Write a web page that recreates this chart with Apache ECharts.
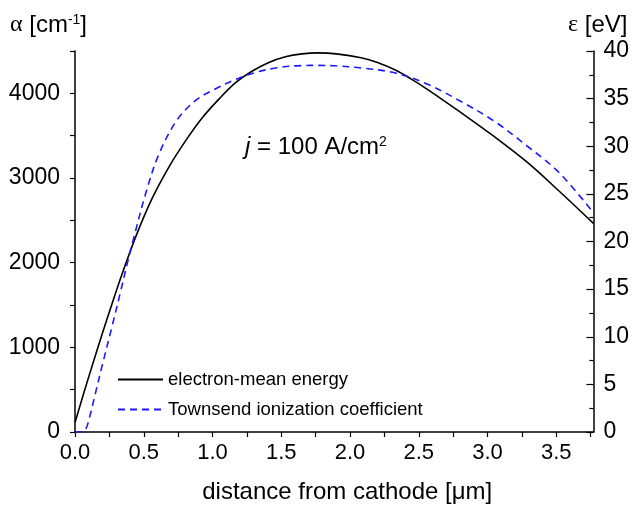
<!DOCTYPE html>
<html>
<head>
<meta charset="utf-8">
<script src="https://cdn.jsdelivr.net/npm/echarts@6/dist/echarts.min.js"></script>
<style>
html,body{margin:0;padding:0;background:#fff;}
#c{width:632px;height:511px;}
</style>
</head>
<body>
<div id="c"></div>
<script>
// electron-mean energy (right axis, eV)
const energyX = [0, 0.06, 0.13, 0.2, 0.27, 0.35, 0.45, 0.56, 0.69, 0.81, 0.92, 1.05, 1.17, 1.29, 1.41, 1.53, 1.65, 1.77, 1.9, 2.08, 2.2, 2.33, 2.44, 2.56, 2.8, 3.05, 3.29, 3.52, 3.77];
const energyEV = [1.0, 3.9, 7.2, 10.4, 13.5, 16.9, 20.8, 24.5, 28.0, 30.7, 32.9, 35.0, 36.7, 37.9, 38.8, 39.4, 39.7, 39.8, 39.7, 39.3, 38.8, 38.0, 37.1, 36.0, 33.6, 31.0, 28.3, 25.3, 21.9];
// Townsend ionization coefficient (left axis, cm^-1)
const alphaX = [0, 0.05, 0.08, 0.11, 0.14, 0.2, 0.27, 0.33, 0.38, 0.43, 0.52, 0.61, 0.74, 0.88, 1.03, 1.17, 1.31, 1.46, 1.65, 1.77, 1.89, 2.08, 2.33, 2.56, 2.8, 3.05, 3.29, 3.52, 3.77];
const alphaCm = [0, 0, 40, 200, 400, 800, 1250, 1650, 1990, 2310, 2850, 3280, 3680, 3920, 4060, 4165, 4245, 4300, 4328, 4330, 4325, 4300, 4240, 4110, 3910, 3670, 3375, 3065, 2590];
const xTicks = [0, 0.5, 1.0, 1.5, 2.0, 2.5, 3.0, 3.5];
const alphaTicks = [0, 1000, 2000, 3000, 4000];
const energyTicks = [0, 5, 10, 15, 20, 25, 30, 35, 40];

const FONT = 'Liberation Sans, Arial, sans-serif';
const chart = echarts.init(document.getElementById('c'), null, {renderer: 'canvas'});

const zip = (a, b) => a.map((v, i) => [v, b[i]]);

chart.setOption({
  backgroundColor: '#ffffff',
  animation: false,
  grid: {left: 75, right: 35, top: 51, bottom: 79, containLabel: false},
  xAxis: {
    type: 'value', min: 0, max: 3.77, interval: 0.25,
    name: 'distance from cathode [\u03bcm]', nameLocation: 'middle', nameGap: 48,
    nameTextStyle: {fontFamily: FONT, fontSize: 24, color: '#000', padding: [0, 0, 0, 26]},
    axisLine: {show: true, lineStyle: {color: '#000', width: 1.5}},
    axisTick: {show: true, inside: false, length: 5, lineStyle: {color: '#000', width: 1.2}},
    axisLabel: {
      show: true, margin: 10, fontFamily: FONT, fontSize: 22, color: '#000',
      showMaxLabel: false,
      formatter: v => (xTicks.some(t => Math.abs(t - v) < 1e-6) ? v.toFixed(1) : '')
    },
    splitLine: {show: false}
  },
  yAxis: [
    {
      type: 'value', min: 0, max: 4500, interval: 500, position: 'left',
      axisLine: {show: true, lineStyle: {color: '#000', width: 1.5}},
      axisTick: {show: true, inside: false, length: 5, lineStyle: {color: '#000', width: 1.2}},
      axisLabel: {
        margin: 15, fontFamily: FONT, fontSize: 23, color: '#000',
        formatter: v => (alphaTicks.includes(v) ? String(v) : '')
      },
      splitLine: {show: false}
    },
    {
      type: 'value', min: 0, max: 40, interval: 5, position: 'right',
      axisLine: {show: true, lineStyle: {color: '#000', width: 1.5}},
      axisTick: {show: true, inside: true, length: 7, lineStyle: {color: '#000', width: 1.2}},
      minorTick: {show: true, splitNumber: 2, length: 4, lineStyle: {color: '#000', width: 1.2}},
      axisLabel: {
        margin: 10, fontFamily: FONT, fontSize: 23, color: '#000',
        formatter: v => (energyTicks.includes(v) ? String(v) : '')
      },
      splitLine: {show: false}
    }
  ],
  legend: {
    show: true, orient: 'vertical', left: 117, top: 370, padding: 0,
    itemWidth: 45, itemHeight: 14, itemGap: 11,
    itemStyle: {color: 'rgba(0,0,0,0)', borderWidth: 0, opacity: 0},
    textStyle: {fontFamily: FONT, fontSize: 18.5, color: '#000'},
    data: ['electron-mean energy', 'Townsend ionization coefficient']
  },
  series: [
    {
      name: 'electron-mean energy', type: 'line', yAxisIndex: 1,
      data: zip(energyX, energyEV), symbol: 'none', smooth: 0.35,
      lineStyle: {color: '#000000', width: 1.6, type: 'solid'},
      itemStyle: {color: '#000000'}
    },
    {
      name: 'Townsend ionization coefficient', type: 'line', yAxisIndex: 0,
      data: zip(alphaX, alphaCm), symbol: 'none', smooth: 0.35,
      lineStyle: {color: '#1a1aff', width: 1.6, type: [7, 5]},
      itemStyle: {color: '#1a1aff'}
    }
  ],
  graphic: [
    {
      type: 'text', left: 10, top: 13,
      style: {
        text: '{g|\u03b1} [cm{s|-1}]',
        fill: '#000',
        font: '24px ' + FONT,
        rich: {
          g: {fontFamily: 'Liberation Serif, DejaVu Serif, serif', fontSize: 24, fill: '#000'},
          s: {fontFamily: FONT, fontSize: 14, verticalAlign: 'top', fill: '#000'}
        }
      }
    },
    {
      type: 'text', left: 568, top: 13,
      style: {
        text: '{g|\u03b5} [eV]',
        fill: '#000',
        font: '24px ' + FONT,
        rich: {
          g: {fontFamily: 'Liberation Serif, DejaVu Serif, serif', fontSize: 24, fill: '#000'}
        }
      }
    },
    {
      type: 'text', left: 245, top: 135,
      style: {
        text: '{i|j} = 100 A/cm{s|2}',
        fill: '#000',
        font: '24px ' + FONT,
        rich: {
          i: {fontFamily: FONT, fontSize: 24, fontStyle: 'italic', fill: '#000'},
          s: {fontFamily: FONT, fontSize: 14, verticalAlign: 'top', fill: '#000'}
        }
      }
    }
  ]
});
</script>
</body>
</html>
